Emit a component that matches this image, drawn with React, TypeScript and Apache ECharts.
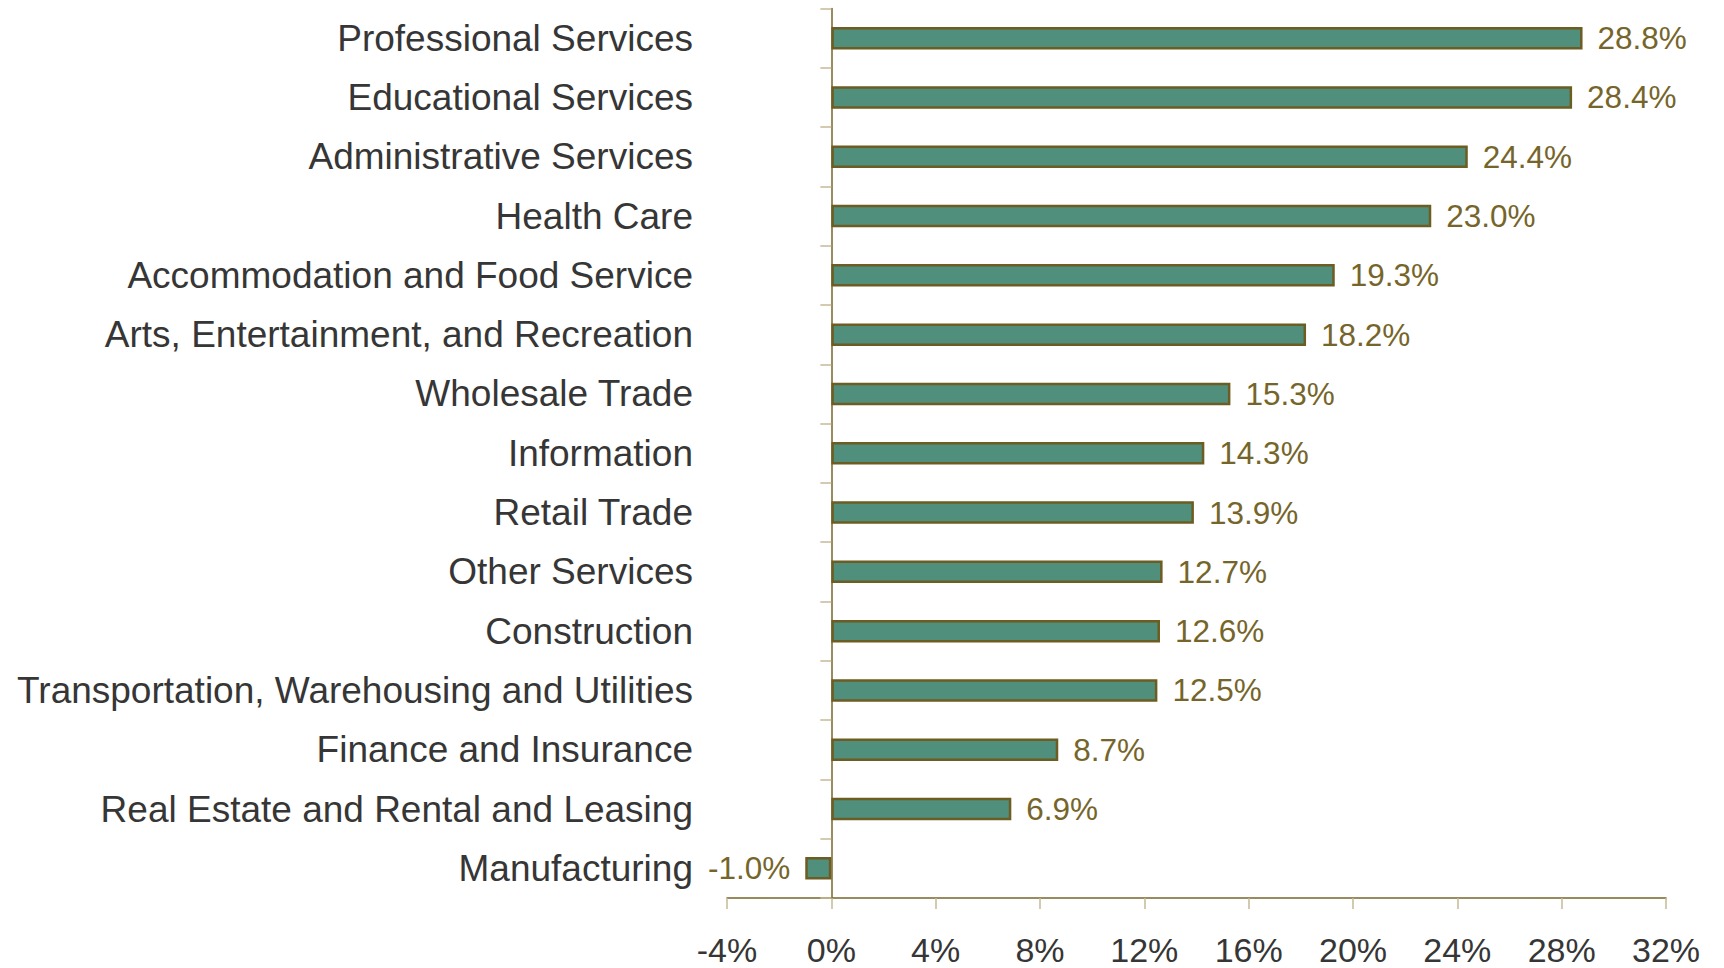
import React, { useEffect, useRef } from "react";
import * as echarts from "echarts";

const categories = [
  "Professional Services",
  "Educational Services",
  "Administrative Services",
  "Health Care",
  "Accommodation and Food Service",
  "Arts, Entertainment, and Recreation",
  "Wholesale Trade",
  "Information",
  "Retail Trade",
  "Other Services",
  "Construction",
  "Transportation, Warehousing and Utilities",
  "Finance and Insurance",
  "Real Estate and Rental and Leasing",
  "Manufacturing",
];

const values = [28.8, 28.4, 24.4, 23.0, 19.3, 18.2, 15.3, 14.3, 13.9, 12.7, 12.6, 12.5, 8.7, 6.9, -1.0];

const xMin = -4;
const xMax = 32;
const xStep = 4;

const FONT = "'Liberation Sans', Arial, Helvetica, sans-serif";
const OLIVE = "#76652a";
const TAN = "#c6b994";
const BAR = "#4f8f7c";
const TEXT = "#363636";

export default function App() {
  const ref = useRef<HTMLDivElement>(null);

  useEffect(() => {
    if (!ref.current) return;
    const chart = echarts.init(ref.current, null, { renderer: "svg" });
    chart.setOption({
      animation: false,
      backgroundColor: "#ffffff",
      grid: { left: 727, right: 58, top: 8.5, bottom: 70, containLabel: false },
      xAxis: {
        type: "value",
        min: xMin,
        max: xMax,
        interval: xStep,
        axisLine: { show: true, lineStyle: { color: OLIVE, width: 1.5 } },
        axisTick: { show: true, length: 11, lineStyle: { color: TAN, width: 1.5 } },
        splitLine: { show: false },
        axisLabel: {
          formatter: (v: number) => `${v}%`,
          color: TEXT,
          fontSize: 34,
          lineHeight: 28,
          fontFamily: FONT,
          margin: 38,
        },
      },
      yAxis: [
        {
          type: "category",
          data: categories,
          inverse: true,
          position: "left",
          axisLine: { show: false, onZero: false },
          axisTick: { show: false },
          axisLabel: {
            color: TEXT,
            fontSize: 37,
            fontFamily: FONT,
            margin: 34,
          },
        },
        {
          type: "category",
          data: categories,
          inverse: true,
          position: "left",
          axisLine: { show: true, onZero: true, lineStyle: { color: OLIVE, width: 1.5 } },
          axisTick: { show: true, length: 11, lineStyle: { color: TAN, width: 1.5 } },
          axisLabel: { show: false },
        },
      ],
      series: [
        {
          type: "bar",
          yAxisIndex: 0,
          data: values.map((v) => ({
            value: v,
            label: { position: v < 0 ? "left" : "right" },
          })),
          barWidth: 22.5,
          itemStyle: { color: BAR, borderColor: "#6d5d22", borderWidth: 2.5 },
          label: {
            show: true,
            distance: 15,
            formatter: (p: any) => `${Number(p.value).toFixed(1)}%`,
            color: OLIVE,
            fontSize: 31.5,
            fontFamily: FONT,
          },
        },
      ],
    });
    return () => chart.dispose();
  }, []);

  return (
    <div
      ref={ref}
      style={{ position: "absolute", left: 0, top: 0, width: 1724, height: 968 }}
    />
  );
}
